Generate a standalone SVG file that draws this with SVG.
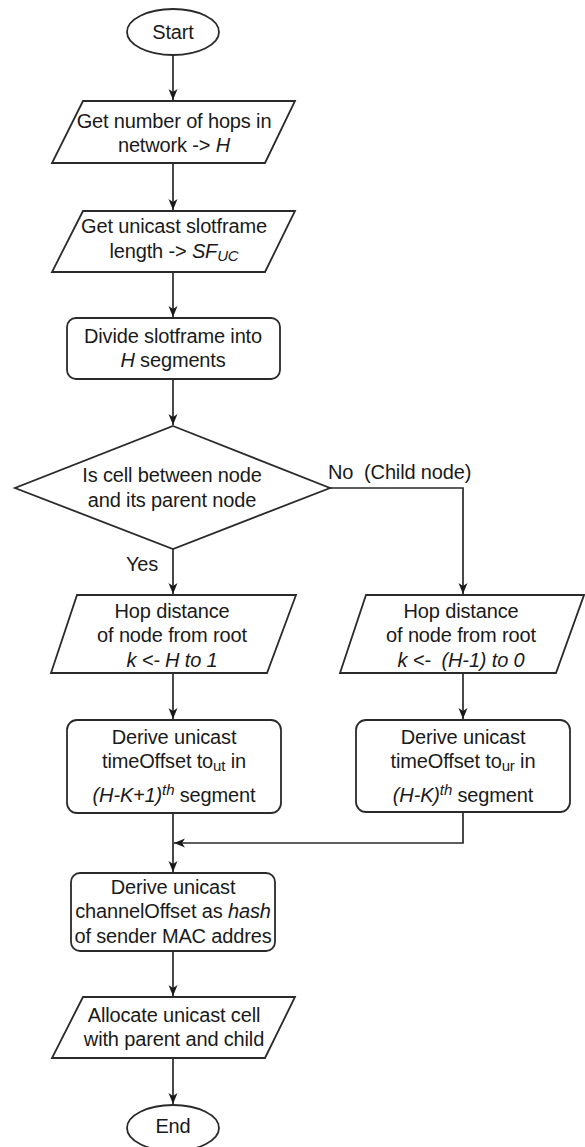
<svg xmlns="http://www.w3.org/2000/svg" width="585" height="1147" viewBox="0 0 585 1147">
<style>
.s{fill:#fff;stroke:#2a2a2a;stroke-width:1.8}
.c{fill:none;stroke:#2a2a2a;stroke-width:1.7}
text{font-family:"Liberation Sans",Arial,sans-serif;font-size:20px;letter-spacing:-0.15px;fill:#1a1a1a;text-anchor:middle;white-space:pre}
.i{font-style:italic}
.sub{font-size:15px}
</style>
<defs>
<marker id="ar" markerUnits="userSpaceOnUse" markerWidth="12" markerHeight="10" refX="11" refY="4.5" orient="auto">
<path d="M0,0 L11,4.5 L0,9 L3,4.5 Z" fill="#1a1a1a"/>
</marker>
</defs>
<rect width="585" height="1147" fill="#fff"/>
<g id="connectors">
<path class="c" d="M173,55 V100" marker-end="url(#ar)"/>
<path class="c" d="M173,163 V210" marker-end="url(#ar)"/>
<path class="c" d="M173,272 V317" marker-end="url(#ar)"/>
<path class="c" d="M173,379 V425" marker-end="url(#ar)"/>
<path class="c" d="M173,549 V594" marker-end="url(#ar)"/>
<path class="c" d="M330,488 H463 V594" marker-end="url(#ar)"/>
<path class="c" d="M173,673 V719" marker-end="url(#ar)"/>
<path class="c" d="M463,673 V719" marker-end="url(#ar)"/>
<path class="c" d="M173,813 V872" marker-end="url(#ar)"/>
<path class="c" d="M463,812 V843 H174" marker-end="url(#ar)"/>
<path class="c" d="M173,951 V996" marker-end="url(#ar)"/>
<path class="c" d="M173,1058 V1104" marker-end="url(#ar)"/>
<text x="142" y="571">Yes</text>
<text x="328" y="479" style="text-anchor:start">No  (Child node)</text>
</g>
<g id="start">
<ellipse class="s" cx="173" cy="32" rx="46" ry="23"/>
<text x="173" y="39">Start</text>
</g>
<g id="hops">
<polygon class="s" points="83,101 295,101 265,163 52,163"/>
<text x="174" y="128">Get number of hops in</text>
<text x="174" y="152">network -&gt; <tspan class="i">H</tspan></text>
</g>
<g id="slotframe">
<polygon class="s" points="83,211 295,211 265,272 52,272"/>
<text x="174" y="233">Get unicast slotframe</text>
<text x="174" y="258">length -&gt; <tspan class="i">SF</tspan><tspan class="i sub" dy="3">UC</tspan></text>
</g>
<g id="divide">
<rect class="s" x="67" y="318" width="213" height="61" rx="9"/>
<text x="173" y="343">Divide slotframe into</text>
<text x="173" y="367"><tspan class="i">H</tspan> segments</text>
</g>
<g id="decision">
<polygon class="s" points="173,426 330,488 173,549 15,488"/>
<text x="172" y="482">Is cell between node</text>
<text x="172" y="507">and its parent node</text>
</g>
<g id="hop-parent">
<polygon class="s" points="77,595 296,595 267,673 51,673"/>
<text x="172" y="618">Hop distance</text>
<text x="172" y="642">of node from root</text>
<text x="172" y="667" class="i">k &lt;- H to 1</text>
</g>
<g id="hop-child">
<polygon class="s" points="366,595 584,595 556,673 340,673"/>
<text x="461" y="618">Hop distance</text>
<text x="461" y="642">of node from root</text>
<text x="461" y="667" class="i">k &lt;-  (H-1) to 0</text>
</g>
<g id="time-parent">
<rect class="s" x="67" y="720" width="214" height="93" rx="10"/>
<text x="174" y="744">Derive unicast</text>
<text x="174" y="768">timeOffset to<tspan class="sub" dy="3">ut</tspan><tspan dy="-3"> in</tspan></text>
<text x="174" y="802"><tspan class="i">(H-K+1)</tspan><tspan class="i sub" dy="-7">th</tspan><tspan dy="7"> segment</tspan></text>
</g>
<g id="time-child">
<rect class="s" x="356" y="720" width="214" height="92" rx="10"/>
<text x="463" y="744">Derive unicast</text>
<text x="463" y="768">timeOffset to<tspan class="sub" dy="3">ur</tspan><tspan dy="-3"> in</tspan></text>
<text x="463" y="802"><tspan class="i">(H-K)</tspan><tspan class="i sub" dy="-7">th</tspan><tspan dy="7"> segment</tspan></text>
</g>
<g id="channel">
<rect class="s" x="71" y="873" width="204" height="78" rx="9"/>
<text x="173" y="894">Derive unicast</text>
<text x="173" y="918">channelOffset as <tspan class="i">hash</tspan></text>
<text x="173" y="943">of sender MAC addres</text>
</g>
<g id="allocate">
<polygon class="s" points="83,997 295,997 265,1058 52,1058"/>
<text x="174" y="1022">Allocate unicast cell</text>
<text x="174" y="1046">with parent and child</text>
</g>
<g id="end">
<ellipse class="s" cx="173" cy="1128" rx="46" ry="23"/>
<text x="173" y="1133">End</text>
</g>
</svg>
